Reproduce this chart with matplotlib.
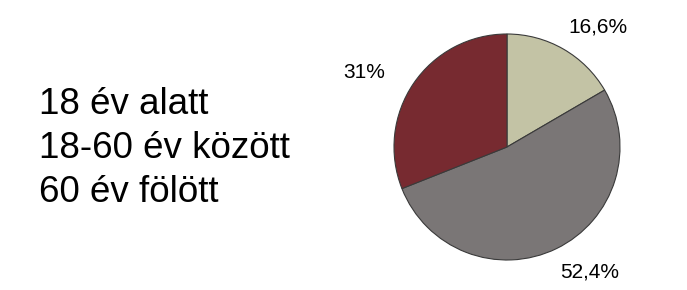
import matplotlib.pyplot as plt

groups = ['18 év alatt', '18-60 év között', '60 év fölött']
shares = [16.6, 52.4, 31.0]
share_labels = ['16,6%', '52,4%', '31%']
colors = ['#c3c3a5', '#7a7676', '#772a30']

plt.rcParams['font.family'] = ['Liberation Sans', 'DejaVu Sans']

fig = plt.figure(figsize=(6.87, 2.90), dpi=100)

# legend-like text block on the left
for i, g in enumerate(groups):
    fig.text(39 / 687, 1 - (104 + i * 44) / 290, g, fontsize=26.5, va='center', ha='left')

# pie
r = 113
cx, cy = 507, 290 - 147
ax = fig.add_axes([(cx - r) / 687, (cy - r) / 290, 2 * r / 687, 2 * r / 290])
ax.pie(shares, colors=colors, startangle=90, counterclock=False,
       wedgeprops=dict(edgecolor='#3a3a3a', linewidth=0.8))
ax.set_xlim(-1, 1)
ax.set_ylim(-1, 1)

label_pos = [(0.805, 1.06), (0.73, -1.11), (-1.26, 0.655)]
for (x, y), t in zip(label_pos, share_labels):
    ax.text(x, y, t, fontsize=15, ha='center', va='center', clip_on=False)

fig.savefig('out.png', dpi=100)
